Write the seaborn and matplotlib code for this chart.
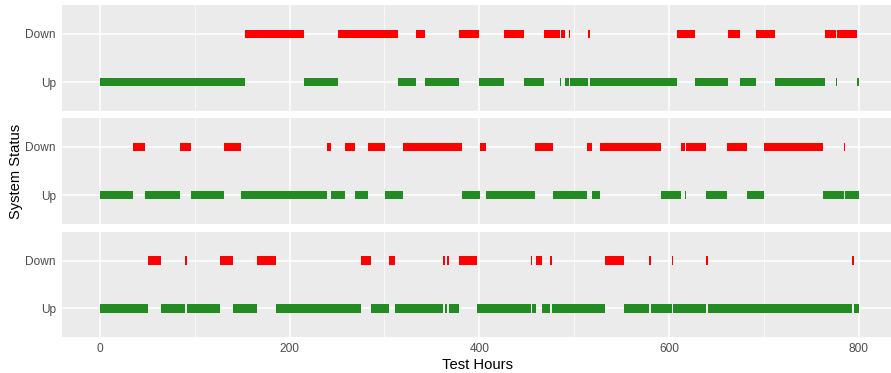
import numpy as np
import pandas as pd
import seaborn as sns
import matplotlib.pyplot as plt
from matplotlib.ticker import MultipleLocator

# Status change points (test hours) and the status that starts at each one.
# Each panel ends at 800 hours.
UNIT1_HOURS = [0, 153, 215, 251, 314, 333, 343, 379, 400, 426, 447, 468, 485, 486,
               490, 494, 496, 515, 517, 608, 627, 662, 675, 692, 712, 764, 776, 777, 798]
UNIT1_STATUS = ['Up', 'Down', 'Up', 'Down', 'Up', 'Down', 'Up', 'Down', 'Up', 'Down',
                'Up', 'Down', 'Up', 'Down', 'Up', 'Down', 'Up', 'Down', 'Up', 'Down',
                'Up', 'Down', 'Up', 'Down', 'Up', 'Down', 'Up', 'Down', 'Up']

UNIT2_HOURS = [0, 35, 48, 84, 96, 131, 149, 239, 244, 258, 269, 283, 301, 320, 382,
               401, 407, 459, 478, 513, 519, 527, 591, 613, 617, 618, 639, 661, 682,
               700, 762, 784, 785]
UNIT2_STATUS = ['Up', 'Down', 'Up', 'Down', 'Up', 'Down', 'Up', 'Down', 'Up', 'Down',
                'Up', 'Down', 'Up', 'Down', 'Up', 'Down', 'Up', 'Down', 'Up', 'Down',
                'Up', 'Down', 'Up', 'Down', 'Up', 'Down', 'Up', 'Down', 'Up', 'Down',
                'Up', 'Down', 'Up']

UNIT3_HOURS = [0, 51, 64, 90, 92, 127, 140, 166, 186, 275, 286, 305, 311, 362, 364,
               366, 368, 379, 398, 454, 456, 460, 466, 475, 477, 533, 553, 579, 581,
               603, 604, 639, 641, 793, 795]
UNIT3_STATUS = ['Up', 'Down', 'Up', 'Down', 'Up', 'Down', 'Up', 'Down', 'Up', 'Down',
                'Up', 'Down', 'Up', 'Down', 'Up', 'Down', 'Up', 'Down', 'Up', 'Down',
                'Up', 'Down', 'Up', 'Down', 'Up', 'Down', 'Up', 'Down', 'Up', 'Down',
                'Up', 'Down', 'Up', 'Down', 'Up']

END_HOUR = 800
CATEGORIES = ['Up', 'Down']
X_TICKS = [0, 200, 400, 600, 800]
COLORS = {'Up': '#228B22', 'Down': '#FF0000'}


def segments(hours, status):
    # Turn change points into start/end rows
    ends = hours[1:] + [END_HOUR]
    return pd.DataFrame({'start': hours, 'end': ends, 'status': status})


def draw_panel(ax, df):
    ax.set_facecolor('#EBEBEB')
    for _, row in df.iterrows():
        ax.barh(CATEGORIES.index(row['status']), row['end'] - row['start'],
                left=row['start'], height=0.18, color=COLORS[row['status']],
                linewidth=0)

    ax.set_xlim(-40, 834)
    ax.set_ylim(-0.6, 1.6)
    ax.set_yticks(range(len(CATEGORIES)))
    ax.set_yticklabels(CATEGORIES)
    ax.set_xticks(X_TICKS)
    ax.xaxis.set_minor_locator(MultipleLocator(100))
    ax.grid(which='major', color='white', linewidth=1.1)
    ax.grid(which='minor', axis='x', color='white', linewidth=0.5)
    ax.set_axisbelow(True)
    for s in ax.spines.values():
        s.set_visible(False)
    ax.tick_params(axis='both', which='major', length=2.5, width=0.8,
                   color='#333333', labelcolor='#4D4D4D', labelsize=8.6, pad=2)
    ax.tick_params(axis='x', which='minor', length=0)
    ax.set_xlabel('')
    ax.set_ylabel('')


sns.set_theme(style='darkgrid')
plt.rcParams['font.family'] = ['Liberation Sans', 'DejaVu Sans']

W, H = 891, 373
fig = plt.figure(figsize=(W / 100, H / 100), dpi=100)

panels = [
    segments(UNIT1_HOURS, UNIT1_STATUS),
    segments(UNIT2_HOURS, UNIT2_STATUS),
    segments(UNIT3_HOURS, UNIT3_STATUS),
]
# pixel (top, bottom) for each panel
boxes = [(5, 111), (118, 224), (232, 337)]

for i, (df, (top, bottom)) in enumerate(zip(panels, boxes)):
    ax = fig.add_axes([62 / W, 1 - bottom / H, (W - 62) / W, (bottom - top) / H])
    draw_panel(ax, df)
    if i < 2:
        ax.tick_params(axis='x', which='both', length=0, labelbottom=False)

fig.text(478 / W, 1 - 365 / H, 'Test Hours', ha='center', va='center',
         fontsize=10.6, color='black')
fig.text(16 / W, 1 - 171 / H, 'System Status', ha='center', va='center',
         rotation=90, fontsize=10.6, color='black')

fig.savefig('out.png', dpi=100)
